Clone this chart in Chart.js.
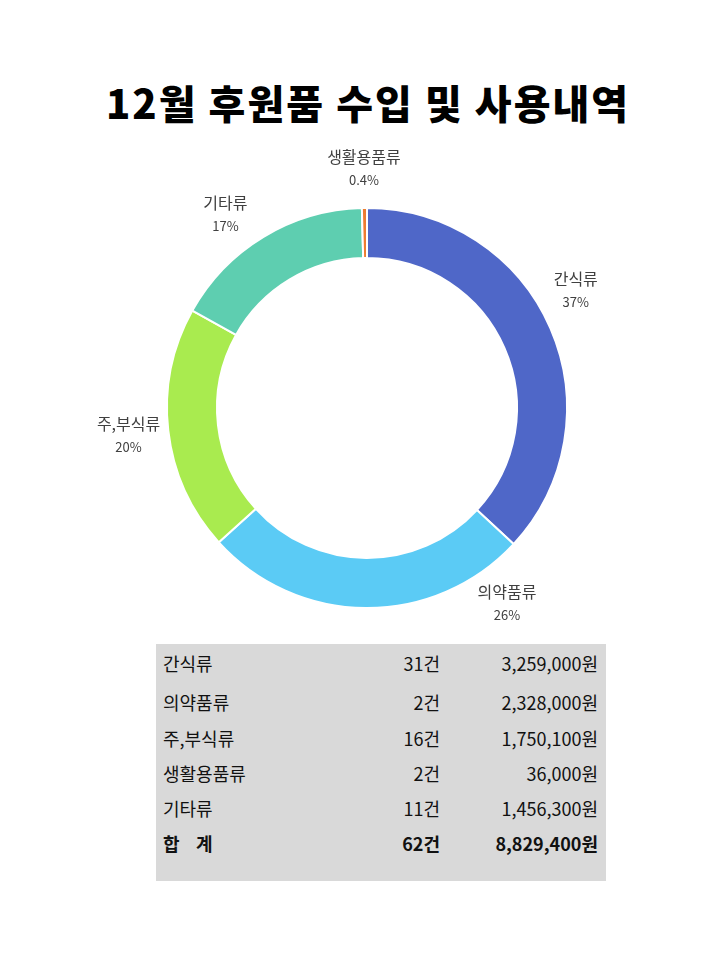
<!DOCTYPE html>
<html>
<head>
<meta charset="utf-8">
<script src="https://cdn.jsdelivr.net/npm/chart.js@4/dist/chart.umd.min.js"></script>
<style>
  body { margin: 0; background: #fff; font-family: "Noto Sans CJK KR", sans-serif; }
  #wrap { position: relative; width: 720px; height: 960px; }
  #title { position: absolute; left: 0; top: 73px; width: 736px; text-align: center;
           font-size: 40px; font-weight: 900; color: #000; letter-spacing: 2px; }
  #box { position: absolute; left: 0; top: 0; width: 720px; height: 640px; }
  #tbl { position: absolute; left: 156px; top: 644px; width: 450px; height: 237px; background: #d9d9d9; }
  #tbl table { border-collapse: collapse; width: 100%; font-size: 18px; color: #111; }
  #tbl td { padding: 0; height: 35px; }
  #tbl td.n { padding-left: 7px; }
  #tbl td.c { text-align: right; width: 110px; }
  #tbl td.a { text-align: right; width: 158px; padding-right: 8px; }
  #tbl tr.first td { height: 38px; padding-top: 0px; }
  #tbl tr.first + tr td { height: 36px; padding-top: 2px; }
  #tbl tr.sum td { font-weight: bold; }
</style>
</head>
<body>
<div id="wrap">
  <div id="title">12월 후원품 수입 및 사용내역</div>
  <div id="box"><canvas id="donut"></canvas></div>
  <div id="tbl"><table id="t"></table></div>
</div>
<script>
const categories = ["간식류", "의약품류", "주,부식류", "기타류", "생활용품류"];
const amounts = [3259000, 2328000, 1750100, 1456300, 36000];
const colors = ["#4F67C8", "#5BCBF5", "#A9EB4F", "#5ECEB0", "#ED7D31"];

// table rows (order as in the sheet)
const tableNames = ["간식류", "의약품류", "주,부식류", "생활용품류", "기타류"];
const tableCounts = [31, 2, 16, 2, 11];
const tableAmounts = [3259000, 2328000, 1750100, 36000, 1456300];

const fmt = n => n.toLocaleString("en-US");
let html = "";
tableNames.forEach((n, i) => {
  html += '<tr class="' + (i === 0 ? 'first' : '') + '"><td class="n">' + n + '</td><td class="c">' +
    tableCounts[i] + '건</td><td class="a">' + fmt(tableAmounts[i]) + '원</td></tr>';
});
const totCount = tableCounts.reduce((a, b) => a + b, 0);
const totAmount = tableAmounts.reduce((a, b) => a + b, 0);
html += '<tr class="sum"><td class="n">합&nbsp;&nbsp;&nbsp;&nbsp;계</td><td class="c">' + totCount +
  '건</td><td class="a">' + fmt(totAmount) + '원</td></tr>';
document.getElementById("t").innerHTML = html;

// percentages rounded so the whole ones add up (tiny slices keep one decimal)
function pctLabels(data) {
  const total = data.reduce((a, b) => a + b, 0);
  const raw = data.map(v => v / total * 100);
  const out = raw.map(p => p < 1 ? p.toFixed(1) + "%" : null);
  const big = raw.map((p, i) => ({ p, i })).filter(o => o.p >= 1);
  let left = 100 - big.reduce((s, o) => s + Math.floor(o.p), 0);
  raw.forEach(p => { if (p < 1) left -= p; });
  left = Math.round(left);
  big.sort((a, b) => (b.p % 1) - (a.p % 1));
  big.forEach((o, k) => { out[o.i] = (Math.floor(o.p) + (k < left ? 1 : 0)) + "%"; });
  return out;
}

const outsideLabels = {
  id: "outsideLabels",
  afterDatasetsDraw(chart, args, opts) {
    const ctx = chart.ctx;
    const pcts = pctLabels(chart.data.datasets[0].data);
    chart.getDatasetMeta(0).data.forEach((arc, i) => {
      const p = arc.getProps(["x", "y", "startAngle", "endAngle", "outerRadius"], true);
      const ang = (p.startAngle + p.endAngle) / 2 + (opts.nudge[i] || 0) * Math.PI / 180;
      const r = p.outerRadius + opts.offset;
      const x = p.x + Math.cos(ang) * r;
      const y = p.y + Math.sin(ang) * r;
      ctx.save();
      ctx.fillStyle = "#404040";
      ctx.textAlign = "center";
      ctx.textBaseline = "middle";
      ctx.font = '16px "Noto Sans CJK KR"';
      ctx.fillText(chart.data.labels[i], x, y - 11);
      ctx.font = '13px "Noto Sans CJK KR"';
      ctx.fillText(pcts[i], x, y + 12);
      ctx.restore();
    });
  }
};

new Chart(document.getElementById("donut"), {
  type: "doughnut",
  data: {
    labels: categories,
    datasets: [{
      data: amounts,
      backgroundColor: colors,
      borderColor: "#ffffff",
      borderWidth: 2
    }]
  },
  options: {
    responsive: true,
    maintainAspectRatio: false,
    animation: false,
    cutout: "75%",
    layout: { padding: { left: 166, right: 152, top: 206, bottom: 30 } },
    plugins: {
      legend: { display: false },
      tooltip: { enabled: false },
      outsideLabels: { offset: 40, nudge: [-6, -36, 0, -5, 0] }
    }
  },
  plugins: [outsideLabels]
});
</script>
</body>
</html>
